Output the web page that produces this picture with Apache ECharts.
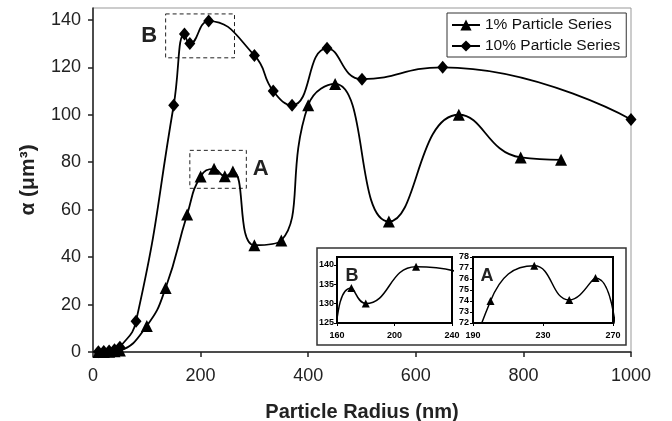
<!DOCTYPE html>
<html>
<head>
<meta charset="utf-8">
<script src="https://cdn.jsdelivr.net/npm/echarts@6/dist/echarts.min.js"></script>
<style>
  html, body { margin: 0; padding: 0; background: #fff; }
  #main { width: 672px; height: 421px; }
</style>
</head>
<body>
<div id="main"></div>
<script>
// [radius nm, alpha um^3]
const onePct = [[10, 0], [20, 0.05], [30, 0.1], [40, 0.3], [50, 0.6], [100, 11], [135, 27], [175, 58],
  [200, 74], [225, 77.2], [245, 74.1], [260, 76.1], [300, 45], [350, 47], [400, 104], [450, 113],
  [550, 55], [680, 100], [795, 82], [870, 81]];
const tenPct = [[10, 0.1], [20, 0.2], [30, 0.4], [40, 0.9], [50, 2], [80, 13], [150, 104], [170, 134],
  [180, 130], [215, 139.5], [300, 125], [335, 110], [370, 104], [435, 128], [500, 115], [650, 120],
  [1000, 98]];
const yTicks = [0, 20, 40, 60, 80, 100, 120, 140];
const insetBY = [125, 130, 135, 140];
// dashed zoom boxes [x, y] corners
const boxA = [[180, 85], [285, 69]];
const boxB = [[135, 142.5], [263, 124]];

const FONT = 'Liberation Sans, Arial, Helvetica, sans-serif';
let chart = echarts.init(document.getElementById('main'));

let plain = function (v) { return String(v); };
let insetAxisLabel = { fontFamily: FONT, fontSize: 9, fontWeight: 'bold', color: '#000', formatter: plain };
let insetLine = { show: true, lineStyle: { color: '#000', width: 2 } };

let option = {
  animation: false,
  textStyle: { fontFamily: FONT },
  legend: {
    data: ['1% Particle Series', '10% Particle Series'],
    orient: 'vertical',
    left: 447, top: 13,
    padding: [4, 6, 3, 4],
    itemGap: 5,
    itemWidth: 28, itemHeight: 14,
    borderColor: '#333', borderWidth: 1,
    textStyle: { fontFamily: FONT, fontSize: 15.5, color: '#111' }
  },
  grid: [
    { left: 93, right: 41, top: 8, bottom: 69, outerBoundsMode: 'none', show: true, borderColor: '#999', borderWidth: 1 },
    { left: 337, top: 257, width: 115, height: 66, outerBoundsMode: 'none', show: true, borderColor: '#000', borderWidth: 2, z: 11 },
    { left: 473, top: 257, width: 140, height: 66, outerBoundsMode: 'none', show: true, borderColor: '#000', borderWidth: 2, z: 11 }
  ],
  xAxis: [
    {
      type: 'value', min: 0, max: 1000, interval: 200,
      name: 'Particle Radius (nm)', nameLocation: 'middle', nameGap: 50,
      nameTextStyle: { fontFamily: FONT, fontSize: 20, fontWeight: 'bold', color: '#222' },
      axisLine: { onZero: false, lineStyle: { color: '#222', width: 1.5 } },
      axisTick: { length: 5, lineStyle: { color: '#222', width: 1.5 } },
      axisLabel: { fontFamily: FONT, fontSize: 18, color: '#222', margin: 15, formatter: plain },
      splitLine: { show: false }
    },
    {
      gridIndex: 1, type: 'value', min: 160, max: 240, interval: 40, z: 11,
      axisLine: insetLine, axisTick: { length: 3, lineStyle: { color: '#000' } },
      axisLabel: Object.assign({ margin: 8 }, insetAxisLabel), splitLine: { show: false }
    },
    {
      gridIndex: 2, type: 'value', min: 190, max: 270, interval: 40, z: 11,
      axisLine: insetLine, axisTick: { length: 3, lineStyle: { color: '#000' } },
      axisLabel: Object.assign({ margin: 8 }, insetAxisLabel), splitLine: { show: false }
    }
  ],
  yAxis: [
    {
      type: 'value', min: 0, max: 145,
      name: 'α (μm³)', nameLocation: 'middle', nameGap: 54, nameRotate: 90,
      nameTextStyle: { fontFamily: FONT, fontSize: 21, fontWeight: 'bold', color: '#222' },
      axisLine: { show: true, lineStyle: { color: '#222', width: 1.5 } },
      axisTick: { show: true, length: 5, customValues: yTicks, lineStyle: { color: '#222', width: 1.5 } },
      axisLabel: { fontFamily: FONT, fontSize: 18, color: '#222', margin: 12, customValues: yTicks },
      splitLine: { show: false }
    },
    {
      gridIndex: 1, type: 'value', min: 125, max: 142, z: 11,
      axisLine: insetLine,
      axisTick: { length: 3, customValues: insetBY, lineStyle: { color: '#000' } },
      axisLabel: Object.assign({ margin: 3, customValues: insetBY }, insetAxisLabel),
      splitLine: { show: false }
    },
    {
      gridIndex: 2, type: 'value', min: 72, max: 78, interval: 1, z: 11,
      axisLine: insetLine, axisTick: { length: 3, lineStyle: { color: '#000' } },
      axisLabel: Object.assign({ margin: 4 }, insetAxisLabel), splitLine: { show: false }
    }
  ],
  graphic: [
    {
      type: 'rect', z: 10,
      shape: { x: 317, y: 248, width: 309, height: 97 },
      style: { fill: '#fff', stroke: '#333', lineWidth: 1.5 }
    },
    {
      type: 'text', z: 14, x: 352, y: 276,
      style: { text: 'B', fill: '#222', font: 'bold 18px ' + FONT, textAlign: 'center', textVerticalAlign: 'middle' }
    },
    {
      type: 'text', z: 14, x: 487, y: 276,
      style: { text: 'A', fill: '#222', font: 'bold 18px ' + FONT, textAlign: 'center', textVerticalAlign: 'middle' }
    }
  ],
  series: [
    {
      name: '1% Particle Series', type: 'line', smooth: 0.5,
      data: onePct,
      symbol: 'triangle', symbolSize: 12,
      lineStyle: { color: '#000', width: 1.8 },
      itemStyle: { color: '#000' },
      markArea: {
        silent: true,
        itemStyle: { color: 'rgba(0,0,0,0)', borderColor: '#222', borderWidth: 1, borderType: [4, 3] },
        label: { position: 'right', distance: 6, fontFamily: FONT, fontSize: 22, fontWeight: 'bold', color: '#222' },
        data: [[{ name: 'A', coord: boxA[0] }, { coord: boxA[1] }]]
      }
    },
    {
      name: '10% Particle Series', type: 'line', smooth: 0.5,
      data: tenPct,
      symbol: 'diamond', symbolSize: [11, 13],
      lineStyle: { color: '#000', width: 1.8 },
      itemStyle: { color: '#000' },
      markArea: {
        silent: true,
        itemStyle: { color: 'rgba(0,0,0,0)', borderColor: '#222', borderWidth: 1, borderType: [4, 3] },
        label: { position: 'left', distance: 8, fontFamily: FONT, fontSize: 22, fontWeight: 'bold', color: '#222' },
        data: [[{ name: 'B', coord: boxB[0] }, { coord: boxB[1] }]]
      }
    },
    {
      name: 'insetB', type: 'line', smooth: 0.5, z: 12,
      xAxisIndex: 1, yAxisIndex: 1, clip: true,
      data: tenPct,
      symbol: 'triangle', symbolSize: 8,
      lineStyle: { color: '#000', width: 1.5 },
      itemStyle: { color: '#000' }
    },
    {
      name: 'insetA', type: 'line', smooth: 0.5, z: 12,
      xAxisIndex: 2, yAxisIndex: 2, clip: true,
      data: onePct,
      symbol: 'triangle', symbolSize: 8,
      lineStyle: { color: '#000', width: 1.5 },
      itemStyle: { color: '#000' }
    }
  ]
};
chart.setOption(option);
</script>
</body>
</html>
